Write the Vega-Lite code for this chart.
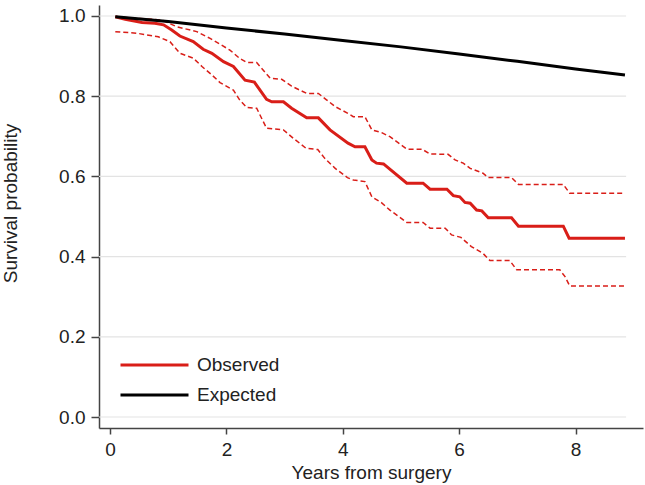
{
  "$schema": "https://vega.github.io/schema/vega-lite/v6.json",
  "width": 544,
  "height": 423,
  "autosize": {"type": "none"},
  "padding": {"left": 99, "top": 5, "right": 2, "bottom": 57},
  "background": "white",
  "config": {
    "view": {"stroke": null},
    "font": "Liberation Sans",
    "axis": {
      "domainColor": "#444",
      "domainWidth": 1.5,
      "tickColor": "#444",
      "tickWidth": 1.5,
      "labelFont": "Liberation Sans",
      "labelFontSize": 19,
      "labelColor": "#222",
      "titleFont": "Liberation Sans",
      "titleFontSize": 19,
      "titleFontWeight": "normal",
      "titleColor": "#222",
      "grid": false
    },
    "legend": {
      "labelFont": "Liberation Sans",
      "labelFontSize": 19,
      "labelColor": "#222"
    }
  },
  "datasets": {
    "grid": [{"surv": 0.0}, {"surv": 0.2}, {"surv": 0.4}, {"surv": 0.6}, {"surv": 0.8}, {"surv": 1.0}],
    "ci": [
      {"series": "upper", "year": 0.09, "surv": 0.998},
      {"series": "upper", "year": 0.49, "surv": 0.994},
      {"series": "upper", "year": 0.89, "surv": 0.990},
      {"series": "upper", "year": 1.15, "surv": 0.973},
      {"series": "upper", "year": 1.49, "surv": 0.961},
      {"series": "upper", "year": 1.72, "surv": 0.944},
      {"series": "upper", "year": 2.06, "surv": 0.915},
      {"series": "upper", "year": 2.23, "surv": 0.894},
      {"series": "upper", "year": 2.35, "surv": 0.884},
      {"series": "upper", "year": 2.52, "surv": 0.884},
      {"series": "upper", "year": 2.75, "surv": 0.845},
      {"series": "upper", "year": 2.95, "surv": 0.842},
      {"series": "upper", "year": 3.12, "surv": 0.825},
      {"series": "upper", "year": 3.38, "surv": 0.807},
      {"series": "upper", "year": 3.58, "surv": 0.807},
      {"series": "upper", "year": 3.72, "surv": 0.791},
      {"series": "upper", "year": 3.87, "surv": 0.774},
      {"series": "upper", "year": 4.09, "surv": 0.757},
      {"series": "upper", "year": 4.18, "surv": 0.749},
      {"series": "upper", "year": 4.38, "surv": 0.749},
      {"series": "upper", "year": 4.50, "surv": 0.716},
      {"series": "upper", "year": 4.67, "surv": 0.709},
      {"series": "upper", "year": 4.81, "surv": 0.699},
      {"series": "upper", "year": 5.10, "surv": 0.668},
      {"series": "upper", "year": 5.36, "surv": 0.668},
      {"series": "upper", "year": 5.50, "surv": 0.656},
      {"series": "upper", "year": 5.81, "surv": 0.655},
      {"series": "upper", "year": 5.93, "surv": 0.641},
      {"series": "upper", "year": 6.07, "surv": 0.633},
      {"series": "upper", "year": 6.19, "surv": 0.620},
      {"series": "upper", "year": 6.41, "surv": 0.608},
      {"series": "upper", "year": 6.50, "surv": 0.597},
      {"series": "upper", "year": 6.90, "surv": 0.597},
      {"series": "upper", "year": 7.02, "surv": 0.580},
      {"series": "upper", "year": 7.79, "surv": 0.580},
      {"series": "upper", "year": 7.90, "surv": 0.558},
      {"series": "upper", "year": 8.85, "surv": 0.558},
      {"series": "lower", "year": 0.09, "surv": 0.961},
      {"series": "lower", "year": 0.46, "surv": 0.957},
      {"series": "lower", "year": 0.83, "surv": 0.948},
      {"series": "lower", "year": 1.03, "surv": 0.936},
      {"series": "lower", "year": 1.20, "surv": 0.907},
      {"series": "lower", "year": 1.43, "surv": 0.895},
      {"series": "lower", "year": 1.58, "surv": 0.874},
      {"series": "lower", "year": 1.75, "surv": 0.853},
      {"series": "lower", "year": 1.89, "surv": 0.834},
      {"series": "lower", "year": 2.12, "surv": 0.815},
      {"series": "lower", "year": 2.23, "surv": 0.790},
      {"series": "lower", "year": 2.35, "surv": 0.772},
      {"series": "lower", "year": 2.52, "surv": 0.770},
      {"series": "lower", "year": 2.69, "surv": 0.720},
      {"series": "lower", "year": 2.98, "surv": 0.716},
      {"series": "lower", "year": 3.15, "surv": 0.695},
      {"series": "lower", "year": 3.37, "surv": 0.670},
      {"series": "lower", "year": 3.57, "surv": 0.667},
      {"series": "lower", "year": 3.69, "surv": 0.645},
      {"series": "lower", "year": 3.87, "surv": 0.620},
      {"series": "lower", "year": 4.08, "surv": 0.597},
      {"series": "lower", "year": 4.18, "surv": 0.591},
      {"series": "lower", "year": 4.38, "surv": 0.587},
      {"series": "lower", "year": 4.50, "surv": 0.549},
      {"series": "lower", "year": 4.66, "surv": 0.535},
      {"series": "lower", "year": 4.81, "surv": 0.516},
      {"series": "lower", "year": 5.10, "surv": 0.485},
      {"series": "lower", "year": 5.38, "surv": 0.485},
      {"series": "lower", "year": 5.50, "surv": 0.471},
      {"series": "lower", "year": 5.76, "surv": 0.471},
      {"series": "lower", "year": 5.87, "surv": 0.454},
      {"series": "lower", "year": 6.03, "surv": 0.448},
      {"series": "lower", "year": 6.21, "surv": 0.425},
      {"series": "lower", "year": 6.41, "surv": 0.408},
      {"series": "lower", "year": 6.53, "surv": 0.390},
      {"series": "lower", "year": 6.87, "surv": 0.390},
      {"series": "lower", "year": 6.99, "surv": 0.367},
      {"series": "lower", "year": 7.73, "surv": 0.367},
      {"series": "lower", "year": 7.82, "surv": 0.350},
      {"series": "lower", "year": 7.90, "surv": 0.327},
      {"series": "lower", "year": 8.85, "surv": 0.327}
    ],
    "main": [
      {"series": "Observed", "year": 0.09, "surv": 0.998},
      {"series": "Observed", "year": 0.26, "surv": 0.992},
      {"series": "Observed", "year": 0.55, "surv": 0.984},
      {"series": "Observed", "year": 0.77, "surv": 0.982},
      {"series": "Observed", "year": 0.92, "surv": 0.978},
      {"series": "Observed", "year": 1.06, "surv": 0.965},
      {"series": "Observed", "year": 1.20, "surv": 0.950},
      {"series": "Observed", "year": 1.43, "surv": 0.936},
      {"series": "Observed", "year": 1.60, "surv": 0.917},
      {"series": "Observed", "year": 1.75, "surv": 0.907},
      {"series": "Observed", "year": 1.95, "surv": 0.886},
      {"series": "Observed", "year": 2.12, "surv": 0.874},
      {"series": "Observed", "year": 2.32, "surv": 0.840},
      {"series": "Observed", "year": 2.48, "surv": 0.835},
      {"series": "Observed", "year": 2.69, "surv": 0.792},
      {"series": "Observed", "year": 2.78, "surv": 0.786},
      {"series": "Observed", "year": 2.98, "surv": 0.786},
      {"series": "Observed", "year": 3.12, "surv": 0.770},
      {"series": "Observed", "year": 3.38, "surv": 0.746},
      {"series": "Observed", "year": 3.58, "surv": 0.746},
      {"series": "Observed", "year": 3.78, "surv": 0.716},
      {"series": "Observed", "year": 4.09, "surv": 0.683},
      {"series": "Observed", "year": 4.21, "surv": 0.674},
      {"series": "Observed", "year": 4.38, "surv": 0.674},
      {"series": "Observed", "year": 4.50, "surv": 0.641},
      {"series": "Observed", "year": 4.58, "surv": 0.633},
      {"series": "Observed", "year": 4.70, "surv": 0.631},
      {"series": "Observed", "year": 5.10, "surv": 0.583},
      {"series": "Observed", "year": 5.38, "surv": 0.583},
      {"series": "Observed", "year": 5.50, "surv": 0.568},
      {"series": "Observed", "year": 5.79, "surv": 0.568},
      {"series": "Observed", "year": 5.90, "surv": 0.552},
      {"series": "Observed", "year": 6.01, "surv": 0.549},
      {"series": "Observed", "year": 6.10, "surv": 0.535},
      {"series": "Observed", "year": 6.19, "surv": 0.533},
      {"series": "Observed", "year": 6.30, "surv": 0.516},
      {"series": "Observed", "year": 6.39, "surv": 0.514},
      {"series": "Observed", "year": 6.50, "surv": 0.497},
      {"series": "Observed", "year": 6.90, "surv": 0.497},
      {"series": "Observed", "year": 7.02, "surv": 0.476},
      {"series": "Observed", "year": 7.79, "surv": 0.476},
      {"series": "Observed", "year": 7.89, "surv": 0.446},
      {"series": "Observed", "year": 8.85, "surv": 0.446},
      {"series": "Expected", "year": 0.09, "surv": 0.998},
      {"series": "Expected", "year": 1.0, "surv": 0.986},
      {"series": "Expected", "year": 2.0, "surv": 0.970},
      {"series": "Expected", "year": 3.0, "surv": 0.955},
      {"series": "Expected", "year": 4.0, "surv": 0.939},
      {"series": "Expected", "year": 5.0, "surv": 0.923},
      {"series": "Expected", "year": 6.0, "surv": 0.905},
      {"series": "Expected", "year": 7.0, "surv": 0.887},
      {"series": "Expected", "year": 8.0, "surv": 0.868},
      {"series": "Expected", "year": 8.85, "surv": 0.853}
    ]
  },
  "layer": [
    {
      "data": {"name": "grid"},
      "mark": {"type": "rule", "color": "#e3e3e3", "strokeWidth": 1.2},
      "encoding": {
        "x": {"datum": -0.19, "type": "quantitative"},
        "x2": {"datum": 8.87},
        "y": {"field": "surv", "type": "quantitative"}
      }
    },
    {
      "data": {"name": "ci"},
      "mark": {"type": "line", "color": "#d91e18", "strokeWidth": 1.5, "strokeDash": [5, 3]},
      "encoding": {
        "x": {"field": "year", "type": "quantitative"},
        "y": {"field": "surv", "type": "quantitative"},
        "detail": {"field": "series"}
      }
    },
    {
      "data": {"name": "main"},
      "mark": {"type": "line", "strokeWidth": 3},
      "encoding": {
        "x": {"field": "year", "type": "quantitative"},
        "y": {"field": "surv", "type": "quantitative"},
        "color": {
          "field": "series",
          "type": "nominal",
          "scale": {"domain": ["Observed", "Expected"], "range": ["#d91e18", "#000000"]},
          "legend": {
            "title": null,
            "orient": "none",
            "legendX": 20,
            "legendY": 350,
            "symbolType": "M-1,0H7",
            "symbolSize": 289,
            "symbolStrokeWidth": 3,
            "labelOffset": 58,
            "rowPadding": 10,
            "padding": 0
          }
        }
      }
    }
  ],
  "resolve": {"scale": {"x": "shared", "y": "shared"}},
  "encoding": {
    "x": {
      "type": "quantitative",
      "scale": {"domain": [-0.19, 9.16], "nice": false, "zero": false},
      "axis": {"values": [0, 2, 4, 6, 8], "title": "Years from surgery", "tickSize": 6, "labelPadding": 6, "titlePadding": 4}
    },
    "y": {
      "type": "quantitative",
      "scale": {"domain": [-0.0274, 1.0274], "nice": false, "zero": false},
      "axis": {"values": [0, 0.2, 0.4, 0.6, 0.8, 1.0], "format": ".1f", "title": "Survival probability", "tickSize": 8, "labelPadding": 6, "titlePadding": 38, "titleY": 198}
    }
  }
}
